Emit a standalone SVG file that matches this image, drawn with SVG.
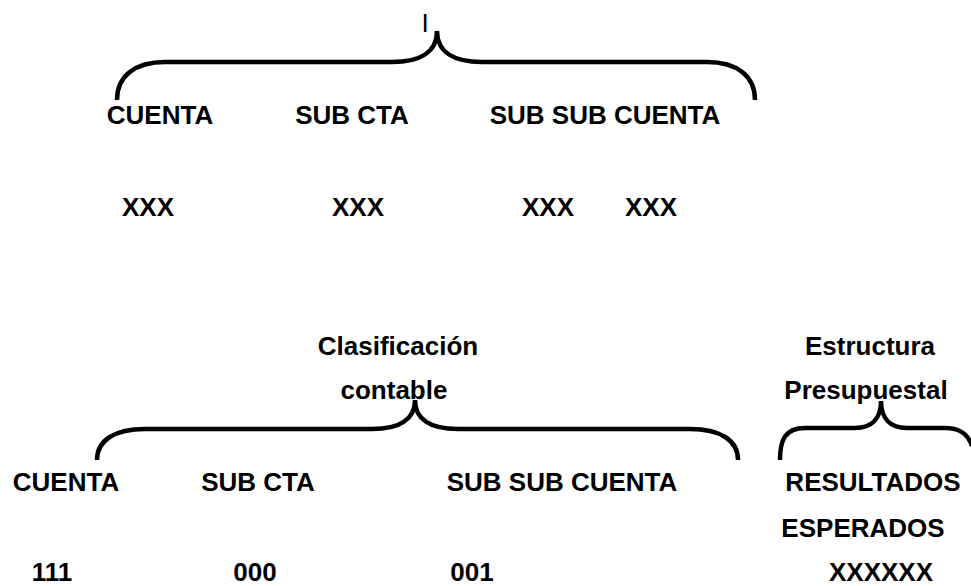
<svg xmlns="http://www.w3.org/2000/svg" width="971" height="586" viewBox="0 0 971 586">
<style>
.t{font-family:"Liberation Sans",Arial,sans-serif;font-weight:bold;font-size:26px;fill:#000}
.r{font-family:"Liberation Sans",Arial,sans-serif;font-size:26px;fill:#000}
.b{fill:none;stroke:#000;stroke-width:4.5;stroke-linecap:butt}
</style>
<rect width="971" height="586" fill="#fff"/>
<g id="connectors">
<path class="b" d="M117,100 C117,76 135,62 165,62 L392,62 C420,62 437,52 437,31 C437,52 454,62 482,62 L707,62 C737,62 755,76 755,100"/>
<path class="b" d="M97,460 C97,440 115,429 145,429 L372,429 C400,429 415,419 415,400 C415,419 430,429 458,429 L690,429 C720,429 738,440 738,460"/>
<path class="b" d="M780,460 C780,440 785,428 805,428 L855,428 C872,428 881,418 881,401 C881,418 890,428 907,428 L945,428 C960,428 968,434 972,446"/>
</g>
<g id="top">
<text class="r" x="425" y="32" text-anchor="middle">I</text>
<text class="t" x="160" y="124" text-anchor="middle">CUENTA</text>
<text class="t" x="352" y="124" text-anchor="middle">SUB CTA</text>
<text class="t" x="605" y="124" text-anchor="middle">SUB SUB CUENTA</text>
<text class="t" x="148" y="216" text-anchor="middle">XXX</text>
<text class="t" x="358" y="216" text-anchor="middle">XXX</text>
<text class="t" x="548" y="216" text-anchor="middle">XXX</text>
<text class="t" x="651" y="216" text-anchor="middle">XXX</text>
</g>
<g id="clasificacion">
<text class="t" x="398" y="355" text-anchor="middle">Clasificación</text>
<text class="t" x="394" y="399" text-anchor="middle">contable</text>
</g>
<g id="estructura">
<text class="t" x="870" y="355" text-anchor="middle">Estructura</text>
<text class="t" x="866" y="399" text-anchor="middle">Presupuestal</text>
</g>
<g id="bottom">
<text class="t" x="66" y="491" text-anchor="middle">CUENTA</text>
<text class="t" x="258" y="491" text-anchor="middle">SUB CTA</text>
<text class="t" x="562" y="491" text-anchor="middle">SUB SUB CUENTA</text>
<text class="t" x="873" y="491" text-anchor="middle">RESULTADOS</text>
<text class="t" x="863" y="537" text-anchor="middle">ESPERADOS</text>
<text class="t" x="52" y="581" text-anchor="middle">111</text>
<text class="t" x="255" y="581" text-anchor="middle">000</text>
<text class="t" x="472" y="581" text-anchor="middle">001</text>
<text class="t" x="881" y="581" text-anchor="middle">XXXXXX</text>
</g>
</svg>
